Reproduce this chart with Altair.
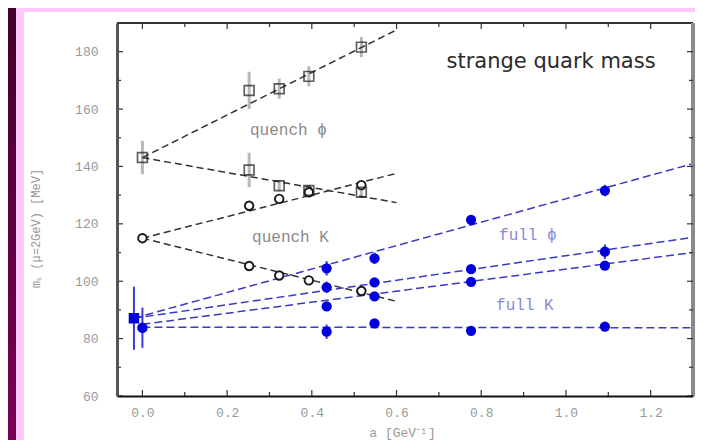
import altair as alt
import pandas as pd

# ---------------- data ----------------
# axis tick values
x_major = [0.0, 0.2, 0.4, 0.6, 0.8, 1.0, 1.2]
x_minor = [0.1, 0.3, 0.5, 0.7, 0.9, 1.1]
y_major = [60, 80, 100, 120, 140, 160, 180]
y_minor = [70, 90, 110, 130, 150, 170]

# quenched lattice points (a in GeV^-1, m_s in MeV)
q_a = [0.252, 0.323, 0.393, 0.517]
qphi_up = [166.5, 167.1, 171.4, 181.6]
qphi_up_err = [6.5, 3.5, 3.5, 3.5]
qphi_dn = [138.8, 133.3, 131.6, 131.0]
qphi_dn_err = [6.0, 2.0, 2.0, 2.0]
qk_up = [126.3, 128.7, 131.0, 133.5]
qk_up_err = [1.2, 1.0, 1.0, 1.0]
qk_dn = [105.3, 102.0, 100.3, 96.6]
qk_dn_err = [1.0, 1.0, 1.0, 1.0]

# quenched continuum values (a = 0)
qc_a = [0.0, 0.0]
qc_val = [143.1, 115.0]
qc_err = [5.8, 1.0]

# quenched linear fits (end points)
qfit_a = [0.0, 0.6]
qfit_phi_up = [143.1, 187.6]
qfit_phi_dn = [143.1, 127.4]
qfit_k_up = [115.0, 137.6]
qfit_k_dn = [115.0, 93.0]

# full (dynamical) lattice points
f_a = [0.435, 0.548, 0.776, 1.092]
f1 = [104.5, 108.0, 121.4, 131.6]
f1_err = [2.5, 2.0, 1.0, 2.0]
f2 = [97.9, 99.6, 104.2, 110.3]
f2_err = [2.0, 1.5, 1.0, 2.5]
f3 = [91.2, 94.7, 99.8, 105.4]
f3_err = [1.5, 1.0, 1.0, 1.0]
f4 = [82.4, 85.3, 82.7, 84.2]
f4_err = [2.5, 1.0, 1.0, 1.0]

# full continuum values
fc_a = [-0.02, 0.0]
fc_val = [87.1, 83.8]
fc_err = [11.0, 7.0]
fc_shape = ["square", "circle"]

# full linear fits (end points)
ffit1_a = [-0.02, 1.3]
ffit1 = [87.1, 141.0]
ffit2_a = [-0.02, 1.3]
ffit2 = [87.1, 115.3]
ffit3_a = [0.0, 1.3]
ffit3 = [85.0, 110.0]
ffit4_a = [0.0, 1.3]
ffit4 = [84.0, 83.8]

# annotations
black_text = ["strange quark mass"]
black_text_a = [0.718]
black_text_m = [176.5]
q_text = ["quench   \u03d5", "quench  K"]
q_text_a = [0.254, 0.259]
q_text_m = [152.8, 115.5]
f_text = ["full \u03d5", "full  K"]
f_text_a = [0.842, 0.835]
f_text_m = [116.2, 91.7]

# ---------------- tables ----------------
def pts(a, m, err, series):
    return pd.DataFrame({"a": a, "m": m,
                         "lo": [v - e for v, e in zip(m, err)],
                         "hi": [v + e for v, e in zip(m, err)],
                         "s": series})

q_sq = pd.concat([pts(q_a, qphi_up, qphi_up_err, "phi_up"),
                  pts(q_a, qphi_dn, qphi_dn_err, "phi_dn"),
                  pts([qc_a[0]], [qc_val[0]], [qc_err[0]], "phi_c")])
q_ci = pd.concat([pts(q_a, qk_up, qk_up_err, "k_up"),
                  pts(q_a, qk_dn, qk_dn_err, "k_dn"),
                  pts([qc_a[1]], [qc_val[1]], [qc_err[1]], "k_c")])
q_all = pd.concat([q_sq, q_ci])

f_pts = pd.concat([pts(f_a, f1, f1_err, "f1"), pts(f_a, f2, f2_err, "f2"),
                   pts(f_a, f3, f3_err, "f3"), pts(f_a, f4, f4_err, "f4")])
f_cont = pts(fc_a, fc_val, fc_err, "fc")
f_cont["shape"] = fc_shape

q_fit = pd.concat([
    pd.DataFrame({"a": qfit_a, "m": qfit_phi_up, "s": "phi_up"}),
    pd.DataFrame({"a": qfit_a, "m": qfit_phi_dn, "s": "phi_dn"}),
    pd.DataFrame({"a": qfit_a, "m": qfit_k_up, "s": "k_up"}),
    pd.DataFrame({"a": qfit_a, "m": qfit_k_dn, "s": "k_dn"}),
])
f_fit = pd.concat([
    pd.DataFrame({"a": ffit1_a, "m": ffit1, "s": "f1"}),
    pd.DataFrame({"a": ffit2_a, "m": ffit2, "s": "f2"}),
    pd.DataFrame({"a": ffit3_a, "m": ffit3, "s": "f3"}),
    pd.DataFrame({"a": ffit4_a, "m": ffit4, "s": "f4"}),
])

one = pd.DataFrame({"k": [0]})

# ---------------- layout ----------------
W, H = 576, 373
PAD = {"left": 109, "top": 15, "right": 2, "bottom": 44}
LABEL_FONT = "Liberation Mono"
GRAY = "#999999"

x_scale = alt.Scale(domain=[-0.06, 1.3], nice=False, zero=False)
y_scale = alt.Scale(domain=[60, 190], nice=False, zero=False)

x_axis = alt.Axis(values=x_major, format=".1f", ticks=False, tickSize=0, grid=False,
                  domainColor="#111", domainWidth=2, labelFont=LABEL_FONT,
                  labelFontSize=13, labelColor=GRAY, labelPadding=10,
                  title="a  [GeV\u207b\u00b9]", titleFont=LABEL_FONT,
                  titleFontSize=13, titleFontWeight="normal", titleColor=GRAY,
                  titleX=285, titleY=36, titleBaseline="middle", titleAlign="center",
                  zindex=1)
y_axis = alt.Axis(values=y_major, format="d", ticks=False, tickSize=0, grid=False,
                  domainColor="#555", domainWidth=3, labelFont=LABEL_FONT,
                  labelFontSize=13, labelColor=GRAY, labelPadding=19,
                  title="m\u209b (\u03bc=2GeV)  [MeV]", titleFont=LABEL_FONT,
                  titleFontSize=12, titleFontWeight="normal", titleColor=GRAY,
                  titleAngle=270, titleX=-82, titleY=205, titleBaseline="middle",
                  titleAlign="center", zindex=1)


def X(field="a"):
    return alt.X(f"{field}:Q", scale=x_scale, axis=x_axis)


def Y(field="m"):
    return alt.Y(f"{field}:Q", scale=y_scale, axis=y_axis)


# ---------------- decoration (page frame) ----------------
grad = alt.Gradient(gradient="linear",
                    stops=[alt.GradientStop(color="#43002b", offset=0),
                           alt.GradientStop(color="#5c0041", offset=0.45),
                           alt.GradientStop(color="#7a0056", offset=1)],
                    x1=0, x2=0, y1=0, y2=1)
bg = alt.Chart(one).mark_rect(fill=grad).encode(
    x=alt.value(-PAD["left"]), x2=alt.value(W + PAD["right"]),
    y=alt.value(-PAD["top"]), y2=alt.value(H + PAD["bottom"]))
pink = alt.Chart(one).mark_rect(fill="#ffc8fd").encode(
    x=alt.value(-101), x2=alt.value(W + 12), y=alt.value(-19), y2=alt.value(H + 60))
white = alt.Chart(one).mark_rect(fill="#ffffff").encode(
    x=alt.value(-93), x2=alt.value(W + 5), y=alt.value(-11), y2=alt.value(H + 49))

# ---------------- frame & inward ticks ----------------
top_line = alt.Chart(one).mark_rule(color="#333", strokeWidth=2).encode(
    x=alt.value(0), x2=alt.value(W), y=alt.value(0))
right_line = alt.Chart(one).mark_rule(color="#8a8a8a", strokeWidth=4).encode(
    x=alt.value(W), y=alt.value(0), y2=alt.value(H))

xt_major = pd.DataFrame({"a": x_major})
xt_minor = pd.DataFrame({"a": x_minor})
yt_major = pd.DataFrame({"m": y_major})
yt_minor = pd.DataFrame({"m": y_minor})
TICK = "#333"
ticks = [
    alt.Chart(xt_major).mark_rule(color=TICK, strokeWidth=1.2).encode(x=X(), y=alt.value(H), y2=alt.value(H - 6)),
    alt.Chart(xt_minor).mark_rule(color=TICK, strokeWidth=1.2).encode(x=X(), y=alt.value(H), y2=alt.value(H - 4)),
    alt.Chart(xt_major).mark_rule(color=TICK, strokeWidth=1.2).encode(x=X(), y=alt.value(0), y2=alt.value(6)),
    alt.Chart(xt_minor).mark_rule(color=TICK, strokeWidth=1.2).encode(x=X(), y=alt.value(0), y2=alt.value(4)),
    alt.Chart(yt_major).mark_rule(color=TICK, strokeWidth=1.2).encode(y=Y(), x=alt.value(0), x2=alt.value(6)),
    alt.Chart(yt_minor).mark_rule(color=TICK, strokeWidth=1.2).encode(y=Y(), x=alt.value(0), x2=alt.value(4)),
    alt.Chart(yt_major).mark_rule(color=TICK, strokeWidth=1.2).encode(y=Y(), x=alt.value(W), x2=alt.value(W - 6)),
    alt.Chart(yt_minor).mark_rule(color=TICK, strokeWidth=1.2).encode(y=Y(), x=alt.value(W), x2=alt.value(W - 4)),
]

# ---------------- data layers ----------------
q_lines = alt.Chart(q_fit).mark_line(color="#333", strokeWidth=1.5, strokeDash=[7, 4]).encode(
    x=X(), y=Y(), detail="s:N")
f_lines = alt.Chart(f_fit).mark_line(color="#3a3ac0", strokeWidth=1.5, strokeDash=[8, 4]).encode(
    x=X(), y=Y(), detail="s:N")

q_err = alt.Chart(q_all).mark_rule(color="#b8b8b8", strokeWidth=3).encode(
    x=X(), y=Y("lo"), y2="hi:Q")
f_err = alt.Chart(pd.concat([f_pts, f_cont.drop(columns="shape")])).mark_rule(
    color="#3838e8", strokeWidth=2).encode(x=X(), y=Y("lo"), y2="hi:Q")

q_sq_pts = alt.Chart(q_sq).mark_point(shape="square", filled=False, size=95,
                                      color="#1a1a1a", strokeWidth=1.7).encode(x=X(), y=Y())
q_ci_pts = alt.Chart(q_ci).mark_point(shape="circle", filled=True, size=72,
                                      color="#ffffff", stroke="#1a1a1a", strokeWidth=1.9,
                                      opacity=1).encode(x=X(), y=Y())
f_points = alt.Chart(f_pts).mark_point(shape="circle", filled=True, size=105,
                                       color="#0000dd", opacity=1).encode(x=X(), y=Y())
f_cont_pts = alt.Chart(f_cont).mark_point(filled=True, size=110, color="#0000dd",
                                          opacity=1).encode(
    x=X(), y=Y(), shape=alt.Shape("shape:N", scale=None, legend=None))

# ---------------- text ----------------
t_black = alt.Chart(pd.DataFrame({"a": black_text_a, "m": black_text_m, "t": black_text})).mark_text(
    align="left", baseline="middle", font="DejaVu Sans", fontSize=21, color="#2a2a2a").encode(
    x=X(), y=Y(), text="t:N")
t_q = alt.Chart(pd.DataFrame({"a": q_text_a, "m": q_text_m, "t": q_text})).mark_text(
    align="left", baseline="middle", font=LABEL_FONT, fontSize=16, color="#8a8a8a").encode(
    x=X(), y=Y(), text="t:N")
t_f = alt.Chart(pd.DataFrame({"a": f_text_a, "m": f_text_m, "t": f_text})).mark_text(
    align="left", baseline="middle", font=LABEL_FONT, fontSize=16, color="#8888dd").encode(
    x=X(), y=Y(), text="t:N")

layers = [bg, pink, white, q_err, f_err, q_lines, f_lines, q_ci_pts, q_sq_pts,
          f_points, f_cont_pts, t_black, t_q, t_f, top_line, right_line] + ticks

chart = alt.layer(*layers).properties(
    width=W, height=H, padding=PAD,
    autosize=alt.AutoSizeParams(type="none"),
    background="#5c0041",
).configure_view(strokeWidth=0)

chart.save("out.html", embed_options={"renderer": "svg", "actions": False})
